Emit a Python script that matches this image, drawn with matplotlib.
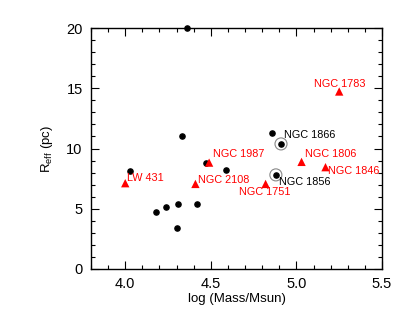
import numpy as np
import matplotlib.pyplot as plt
from matplotlib.ticker import MultipleLocator

# black dots (log mass, R_eff)
dot_mass = [4.36, 4.33, 4.03, 4.18, 4.24, 4.31, 4.30, 4.42, 4.47, 4.59, 4.86, 4.91, 4.88]
dot_reff = [20.0, 11.07, 8.14, 4.76, 5.18, 5.4, 3.4, 5.4, 8.83, 8.22, 11.32, 10.38, 7.81]

# circled clusters
circ_mass = [4.91, 4.88]
circ_reff = [10.38, 7.81]
circ_names = ['NGC 1866', 'NGC 1856']
circ_text = [(4.93, 11.1), (4.90, 7.2)]

# red triangles
tri_names = ['LW 431', 'NGC 2108', 'NGC 1987', 'NGC 1751', 'NGC 1806', 'NGC 1846', 'NGC 1783']
tri_mass = [4.00, 4.41, 4.49, 4.82, 5.03, 5.17, 5.25]
tri_reff = [7.12, 7.06, 8.83, 7.06, 8.89, 8.45, 14.73]
tri_text = [(4.01, 7.55), (4.425, 7.4), (4.51, 9.53), (4.665, 6.37),
            (5.05, 9.53), (5.186, 8.16), (5.10, 15.37)]

plt.rcParams['font.family'] = 'Liberation Sans'
fig = plt.figure(figsize=(4.09, 3.27), dpi=100)
ax = fig.add_axes([91/409, 1-269/327, 291/409, 241/327])

ax.scatter(dot_mass, dot_reff, s=14, color='black', zorder=3, clip_on=False)
ax.scatter(circ_mass, circ_reff, s=75, facecolors='none', edgecolors='#888888', linewidths=0.8, zorder=3)
ax.scatter(tri_mass, tri_reff, s=36, marker='^', color='red', edgecolors='none', zorder=3)

for name, (tx, ty) in zip(tri_names, tri_text):
    ax.text(tx, ty, name, color='red', fontsize=7.8, va='center', ha='left', clip_on=True)
for name, (tx, ty) in zip(circ_names, circ_text):
    ax.text(tx, ty, name, color='black', fontsize=7.8, va='center', ha='left')

ax.set_xlim(3.8, 5.5)
ax.set_ylim(0, 20)
ax.xaxis.set_major_locator(MultipleLocator(0.5))
ax.xaxis.set_minor_locator(MultipleLocator(0.1))
ax.yaxis.set_major_locator(MultipleLocator(5))
ax.yaxis.set_minor_locator(MultipleLocator(1))
ax.xaxis.set_major_formatter(plt.FormatStrFormatter('%.1f'))
ax.tick_params(which='both', direction='in', top=True, right=True, labelsize=10.5, width=0.8)
ax.tick_params(which='major', length=6, pad=6)
ax.tick_params(which='minor', length=3)
for sp in ax.spines.values():
    sp.set_linewidth(1.0)

ax.set_xlabel('log (Mass/Msun)', fontsize=9.5, labelpad=1)
ax.set_ylabel(r'R$_{\mathregular{eff}}$ (pc)', fontsize=9.5, labelpad=8)

fig.savefig('out.png', dpi=100)
